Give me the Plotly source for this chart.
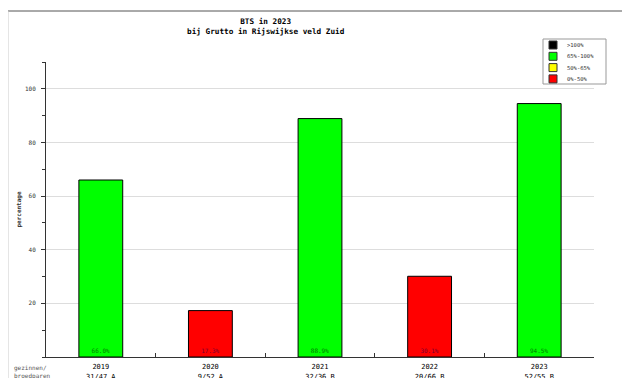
import plotly.graph_objects as go

# BTS (broedsucces) per jaar
jaren = ['2019', '2020', '2021', '2022', '2023']
bts = [66.0, 17.3, 88.9, 30.1, 94.5]
paren = ['31/47 A', '9/52 A', '32/36 B', '20/66 B', '52/55 B']

klassen = ['>100%', '65%-100%', '50%-65%', '0%-50%']
kleuren = ['#000000', '#00ff00', '#ffff00', '#ff0000']

MONO = 'DejaVu Sans Mono'

# pagina heeft 8px body-marge; plotgebied in schermpixels
OFF = 8
L, R, T, B = 46, 594, 62, 357


def px(x):
    return (x - L) / (R - L)


def py(y):
    return (B - y) / (B - T)


def kleur(v):
    if v > 100:
        return kleuren[0]
    if v >= 65:
        return kleuren[1]
    if v >= 50:
        return kleuren[2]
    return kleuren[3]


def tekstkleur(v):
    return '#007a00' if v >= 50 else '#7a0030'


fig = go.Figure()

fig.add_trace(go.Bar(
    x=jaren, y=bts,
    marker=dict(color=[kleur(v) for v in bts], line=dict(color='#000000', width=1)),
    width=0.4,
    text=['%.1f%%' % v for v in bts],
    textposition='inside', insidetextanchor='start',
    textfont=dict(family=MONO, size=6, color=[tekstkleur(v) for v in bts]),
    textangle=0,
    showlegend=False,
    hoverinfo='skip',
))

annos = [
    dict(text='<b>BTS in 2023</b><br><b>bij Grutto in Rijswijkse veld Zuid</b>',
         xref='paper', yref='paper', x=px(266), y=py(15), xanchor='center', yanchor='top',
         showarrow=False, font=dict(family=MONO, size=7.7, color='#000000')),
    dict(text='gezinnen/<br>broedparen', xref='paper', yref='paper', x=px(12), y=py(362),
         xanchor='left', yanchor='top', align='left', showarrow=False,
         font=dict(family=MONO, size=6, color='#555555')),
]

shapes = [
    dict(type='line', xref='paper', yref='paper', x0=px(8), x1=px(640), y0=py(11), y1=py(11),
         line=dict(color='#555555', width=1)),
    dict(type='line', xref='paper', yref='paper', x0=px(8), x1=px(8), y0=py(11), y1=py(390),
         line=dict(color='#cccccc', width=1)),
    # legenda kader
    dict(type='rect', xref='paper', yref='paper', x0=px(543), x1=px(606), y0=py(39), y1=py(84),
         line=dict(color='#999999', width=1), fillcolor='white'),
]

# legenda
for i, (k, c) in enumerate(zip(klassen, kleuren)):
    yc = 45 + i * 11.3
    shapes.append(dict(type='rect', xref='paper', yref='paper',
                       x0=px(549), x1=px(557), y0=py(yc - 4), y1=py(yc + 4),
                       line=dict(color='#333333', width=1), fillcolor=c))
    annos.append(dict(text=k, xref='paper', yref='paper', x=px(565), y=py(yc),
                      xanchor='left', yanchor='middle', showarrow=False,
                      font=dict(family=MONO, size=5.5, color='#333333')))

fig.update_layout(
    width=630, height=378,
    margin=dict(l=L - OFF, r=630 - R + OFF, t=T - OFF, b=378 - B + OFF),
    paper_bgcolor='white', plot_bgcolor='white',
    annotations=annos,
    shapes=shapes,
    showlegend=False,
)

fig.update_xaxes(
    type='category', categoryorder='array', categoryarray=jaren,
    range=[-0.5, 4.5], automargin=False,
    tickmode='array', tickvals=jaren,
    ticktext=['%s<br>%s' % (j, p) for j, p in zip(jaren, paren)],
    showline=True, linecolor='#333333', linewidth=1,
    ticks='inside', tickson='boundaries', ticklen=4, tickcolor='#333333',
    showgrid=False, tickangle=0, ticklabelstandoff=3,
    tickfont=dict(family=MONO, size=7, color='#000000'),
)
fig.update_yaxes(
    range=[0, 110], tickvals=[20, 40, 60, 80, 100], automargin=False,
    showline=True, linecolor='#333333', linewidth=1,
    ticks='outside', ticklen=4, tickcolor='#333333', ticklabelstandoff=4,
    minor=dict(dtick=10, ticks='outside', ticklen=3, tickcolor='#333333', showgrid=False),
    showgrid=True, gridcolor='#dddddd', gridwidth=1, zeroline=False,
    tickfont=dict(family=MONO, size=6, color='#333333'),
    title=dict(text='<b>percentage</b>', standoff=2, font=dict(family=MONO, size=6, color='#333333')),
)

fig.write_html('out.html')
